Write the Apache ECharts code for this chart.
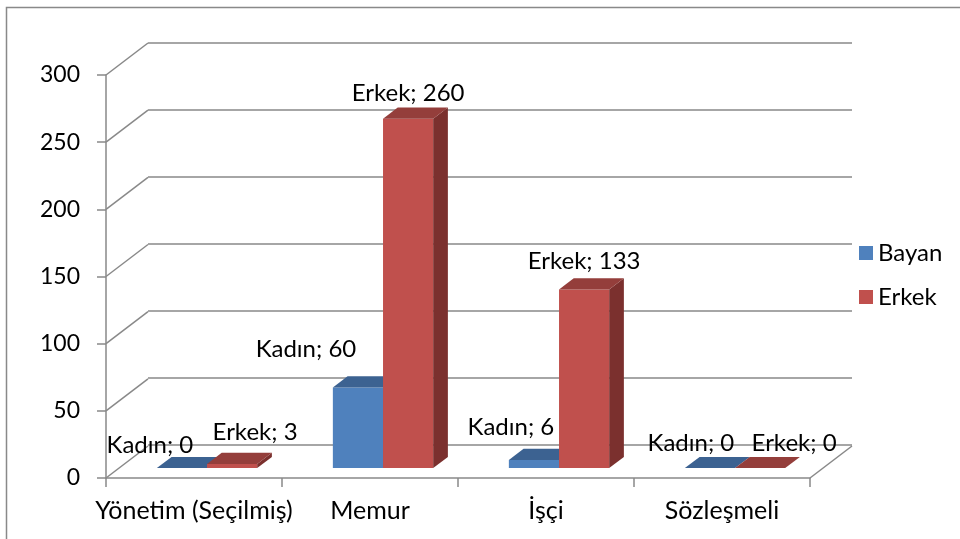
<!DOCTYPE html>
<html>
<head>
<meta charset="utf-8">
<script src="https://cdn.jsdelivr.net/npm/echarts@6/dist/echarts.min.js"></script>
<style>
  html, body { margin: 0; padding: 0; background: #fff; }
  #chart { width: 960px; height: 539px; }
</style>
</head>
<body>
<div id="chart"></div>
<script>
// veriler
var categories = ['Yönetim (Seçilmiş)', 'Memur', 'İşçi', 'Sözleşmeli'];
var seriesNames = ['Bayan', 'Erkek'];
var labelNames = ['Kadın', 'Erkek'];
var bayanValues = [0, 60, 6, 0];
var erkekValues = [3, 260, 133, 0];
var yTicks = [0, 50, 100, 150, 200, 250, 300];

// 3D görünüm ayarları
var DX = 42, DY = -32;          // derinlik vektörü (ön -> arka duvar)
var FRONT_F = 0.31;             // çubuğun ön yüzü derinlikte nerede
var DEPTH_F = 0.35;             // çubuk kalınlığı
var BAR_FRAC = 0.285;           // bant içinde bir çubuğun genişliği
var GRID_COLOR = '#898989';
var FONT = 'Lato';

var faceColors = [
    { front: '#4F81BD', top: '#3C6291', side: '#395D89' },
    { front: '#C0504D', top: '#943E3B', side: '#7B302E' }
];
// etiket kaydırmaları (ön yüz üst ortasına göre)
var labelNudge = [
    [[-32, -23], [-52, -38], [-23, -33], [-19, -25]],
    [[23, -32], [0, -26], [0, -28], [34, -25]]
];

function barData(values, s) {
    var out = [];
    for (var i = 0; i < values.length; i++) {
        out.push([i, values[i], s]);
    }
    return out;
}

function renderBar(params, api) {
    var cat = api.value(0), val = api.value(1), s = api.value(2);
    var base = api.coord([cat, 0]);
    var top = api.coord([cat, val]);
    var band = api.size([1, 0])[0];
    var w = band * BAR_FRAC;
    var ox = DX * FRONT_F, oy = DY * FRONT_F;
    var bx = DX * DEPTH_F, by = DY * DEPTH_F;
    var x0 = base[0] - w + s * w + ox;
    var yb = base[1] + oy;
    var yt = top[1] + oy;
    var c = faceColors[s];
    var children = [];
    if (yb - yt > 0.5) {
        children.push({
            type: 'rect',
            shape: { x: x0, y: yt, width: w, height: yb - yt },
            style: { fill: c.front }
        });
        children.push({
            type: 'polygon',
            shape: { points: [[x0 + w, yt], [x0 + w + bx, yt + by], [x0 + w + bx, yb + by], [x0 + w, yb]] },
            style: { fill: c.side }
        });
    }
    children.push({
        type: 'polygon',
        shape: { points: [[x0, yt], [x0 + w, yt], [x0 + w + bx, yt + by], [x0 + bx, yt + by]] },
        style: { fill: c.top }
    });
    var nd = labelNudge[s][cat];
    children.push({
        type: 'text',
        x: x0 + w / 2 + nd[0],
        y: yt + nd[1],
        style: {
            text: labelNames[s] + '; ' + val,
            fill: '#000',
            font: '24px ' + FONT,
            align: 'center',
            verticalAlign: 'middle'
        },
        z2: 10
    });
    return { type: 'group', children: children };
}

function renderDiag(params, api) {
    var v = api.value(0);
    var p = api.coord([0, v]);
    var band = api.size([1, 0])[0];
    var left = p[0] - band / 2;
    var lines = [{
        type: 'line',
        shape: { x1: left, y1: p[1], x2: left + DX, y2: p[1] + DY },
        style: { stroke: GRID_COLOR, lineWidth: 1.5 }
    }];
    if (v === 0) {
        var right = api.coord([categories.length - 1, 0])[0] + band / 2;
        lines.push({
            type: 'line',
            shape: { x1: right, y1: p[1], x2: right + DX, y2: p[1] + DY },
            style: { stroke: GRID_COLOR, lineWidth: 1.5 }
        });
    }
    return { type: 'group', children: lines };
}

var myChart = echarts.init(document.getElementById('chart'));

var option = {
    backgroundColor: '#fff',
    animation: false,
    graphic: [{
        type: 'rect',
        shape: { x: 6.5, y: 7.5, width: 1000, height: 600 },
        style: { fill: 'none', stroke: GRID_COLOR, lineWidth: 1.5 },
        silent: true
    }],
    legend: {
        orient: 'vertical',
        left: 854,
        top: 236,
        itemWidth: 14,
        itemHeight: 14,
        itemGap: 20,
        icon: 'rect',
        textStyle: { fontFamily: FONT, fontSize: 24, color: '#000' },
        data: seriesNames
    },
    grid: [
        { left: 148, right: 108, top: 43, bottom: 94 },   // arka duvar
        { left: 106, right: 150, top: 75, bottom: 61 }    // ön düzlem
    ],
    xAxis: [
        { gridIndex: 0, type: 'category', data: categories, show: false },
        {
            gridIndex: 1, type: 'category', data: categories,
            axisLine: { lineStyle: { color: GRID_COLOR, width: 1.5 } },
            axisTick: { show: true, length: 9, lineStyle: { color: GRID_COLOR, width: 1.5 } },
            axisLabel: { interval: 0, fontFamily: FONT, fontSize: 25, color: '#000', margin: 20 }
        }
    ],
    yAxis: [
        {
            gridIndex: 0, type: 'value', min: 0, max: 300, interval: 50,
            axisLine: { show: false }, axisTick: { show: false }, axisLabel: { show: false },
            splitLine: { lineStyle: { color: GRID_COLOR, width: 1.5 } }
        },
        {
            gridIndex: 1, type: 'value', min: 0, max: 300, interval: 50,
            axisLine: { show: true, lineStyle: { color: GRID_COLOR, width: 1.5 } },
            axisTick: { show: true, length: 9, lineStyle: { color: GRID_COLOR, width: 1.5 } },
            axisLabel: { fontFamily: FONT, fontSize: 23, color: '#000', margin: 26 },
            splitLine: { show: false }
        }
    ],
    series: [
        {
            type: 'custom', name: 'diag', xAxisIndex: 1, yAxisIndex: 1,
            renderItem: renderDiag, silent: true,
            data: yTicks.map(function (v) { return [v]; }),
            encode: { y: 0 }, z: 1
        },
        {
            type: 'custom', name: seriesNames[0], xAxisIndex: 1, yAxisIndex: 1,
            renderItem: renderBar, itemStyle: { color: faceColors[0].front },
            data: barData(bayanValues, 0), encode: { x: 0, y: 1 }, z: 3
        },
        {
            type: 'custom', name: seriesNames[1], xAxisIndex: 1, yAxisIndex: 1,
            renderItem: renderBar, itemStyle: { color: faceColors[1].front },
            data: barData(erkekValues, 1), encode: { x: 0, y: 1 }, z: 4
        }
    ]
};

myChart.setOption(option);
</script>
</body>
</html>
